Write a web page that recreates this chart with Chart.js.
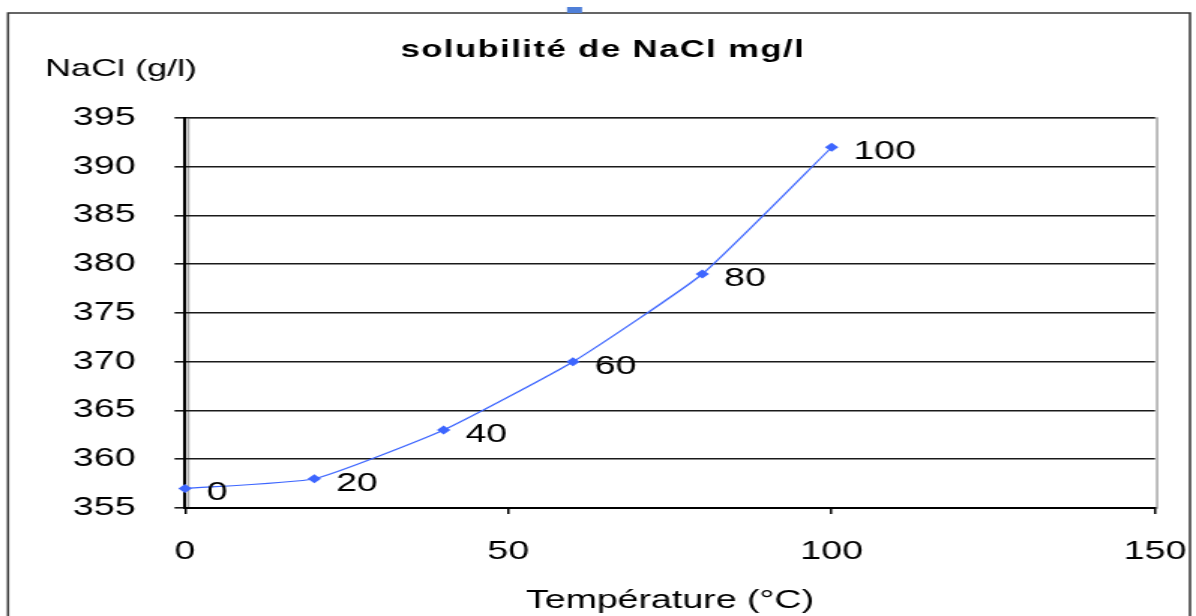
<!DOCTYPE html>
<html>
<head>
<meta charset="utf-8">
<script src="https://cdn.jsdelivr.net/npm/chart.js@4.4.1/dist/chart.umd.min.js"></script>
<style>
html,body{margin:0;padding:0;background:#fff;overflow:hidden;}
#c{display:block;width:1196px !important;height:616px !important;}
</style>
</head>
<body>
<canvas id="c" width="797" height="616" style="width:1196px;height:616px"></canvas>
<script>
// ---- data ----
const temperatures = [0, 20, 40, 60, 80, 100];
const solubility = [357, 358, 363, 370, 379, 392];
const pointLabels = ['0', '20', '40', '60', '80', '100'];
const chartTitle = 'solubilité de NaCl mg/l';
const yTitle = 'NaCl (g/l)';
const xTitle = 'Température (°C)';

const W = 797, H = 616, S = 1196 / 797; // canvas drawn at W and stretched horizontally
const X = v => v / S;

const AREA = {left: X(185), right: X(1155), top: 118, bottom: 508};
const FONT = '"Liberation Sans", Arial, sans-serif';

const decor = {
  id: 'decor',
  beforeDraw(chart) {
    const ctx = chart.ctx;
    ctx.save();
    ctx.fillStyle = '#fff';
    ctx.fillRect(0, 0, W, H);
    // outer frame
    ctx.strokeStyle = '#333';
    ctx.lineWidth = 1.5;
    ctx.beginPath();
    ctx.moveTo(X(8), H + 2);
    ctx.lineTo(X(8), 13);
    ctx.lineTo(X(1190), 13);
    ctx.lineTo(X(1190), H + 2);
    ctx.stroke();
    // small handle
    ctx.fillStyle = '#4f7fd8';
    ctx.fillRect(X(567), 7, X(15), 6);
    // plot frame (gray)
    const a = chart.chartArea;
    ctx.strokeStyle = '#a8a8a8';
    ctx.lineWidth = 1.5;
    ctx.strokeRect(a.left + 2.2, a.top, a.right - a.left - 0.8, a.bottom - a.top);
    ctx.restore();
  },
  afterDraw(chart) {
    const ctx = chart.ctx;
    ctx.save();
    ctx.fillStyle = '#000';
    ctx.textBaseline = 'middle';
    ctx.font = 'bold 23px ' + FONT;
    ctx.textAlign = 'center';
    try { ctx.letterSpacing = '1px'; } catch (e) {}
    ctx.fillText(chartTitle, X(603), 51);
    try { ctx.letterSpacing = '0px'; } catch (e) {}
    ctx.font = '24px ' + FONT;
    ctx.textAlign = 'left';
    ctx.fillText(yTitle, X(45), 69);
    // data labels
    const meta = chart.getDatasetMeta(0);
    ctx.font = '25px ' + FONT;
    meta.data.forEach((pt, i) => {
      ctx.fillText(pointLabels[i], pt.x + 14.5, pt.y + 5);
    });
    ctx.restore();
  }
};

new Chart(document.getElementById('c'), {
  type: 'scatter',
  data: {
    datasets: [{
      data: temperatures.map((t, i) => ({x: t, y: solubility[i]})),
      showLine: true,
      borderColor: '#3d66ff',
      backgroundColor: '#3d66ff',
      borderWidth: 1.2,
      tension: 0.15,
      pointStyle: 'rectRot',
      pointRadius: 4.5,
      pointBorderWidth: 0,
      clip: false
    }]
  },
  options: {
    responsive: false,
    animation: false,
    devicePixelRatio: 1,
    layout: {padding: {left: 0, right: W - AREA.right, top: AREA.top, bottom: 0}},
    plugins: {legend: {display: false}, tooltip: {enabled: false}, title: {display: false}},
    scales: {
      x: {
        type: 'linear', min: 0, max: 150,
        afterFit(s) { s.height = H - AREA.bottom; s.paddingLeft = 0; s.paddingRight = 0; },
        ticks: {stepSize: 50, color: '#000', font: {family: FONT, size: 25}, padding: 23, maxRotation: 0},
        grid: {drawOnChartArea: false, drawTicks: true, tickLength: 6, color: '#000', lineWidth: 1.5},
        border: {display: true, color: '#000', width: 2},
        title: {display: true, text: xTitle, color: '#000', font: {family: FONT, size: 25}, padding: {top: 0, bottom: 0}}
      },
      y: {
        type: 'linear', min: 355, max: 395,
        afterFit(s) { s.width = AREA.left; s.paddingTop = 0; s.paddingBottom = 0; },
        ticks: {stepSize: 5, color: '#000', font: {family: FONT, size: 25}, padding: 26},
        grid: {drawTicks: true, tickLength: 7, color: '#1a1a1a', lineWidth: 1.6},
        border: {display: true, color: '#000', width: 2}
      }
    }
  },
  plugins: [decor]
});
</script>
</body>
</html>
